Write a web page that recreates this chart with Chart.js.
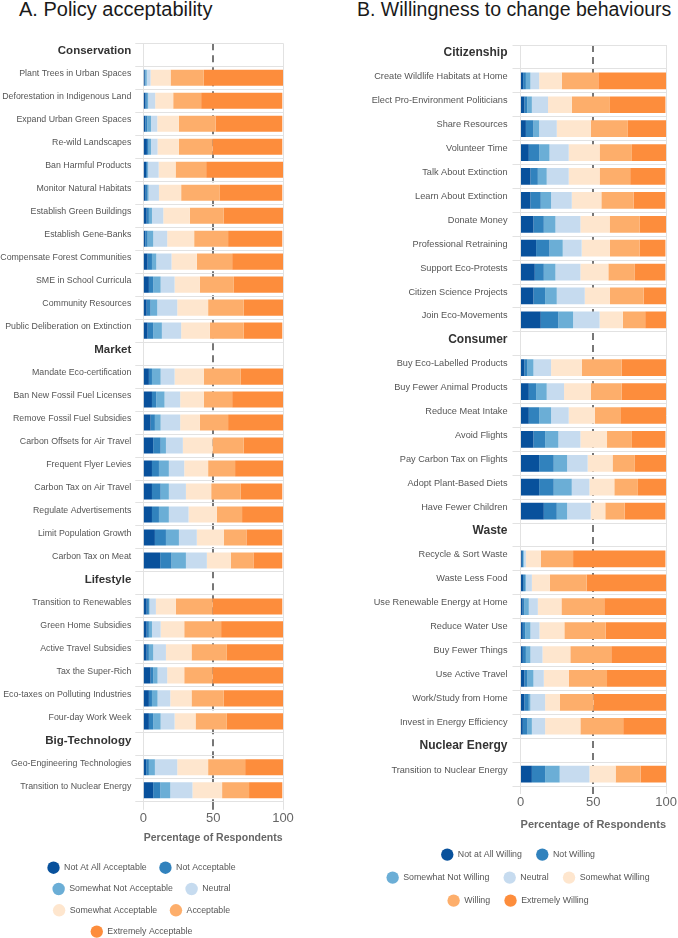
<!DOCTYPE html>
<html>
<head>
<meta charset="utf-8">
<script src="https://cdn.jsdelivr.net/npm/chart.js@4.4.1/dist/chart.umd.min.js"></script>
<style>
  body {
    margin: 0;
    width: 678px;
    height: 938px;
    overflow: hidden;
    background: #fff;
    position: relative;
    font-family: "Liberation Sans", Arial, sans-serif;
  }
  .panel-title {
    position: absolute;
    top: -3px;
    line-height: 24px;
    color: #1a1a1a;
    white-space: nowrap;
  }
  canvas { position: absolute; }
</style>
</head>
<body>
<div class="panel-title" style="left:19px;font-size:20px">A. Policy acceptability</div>
<div class="panel-title" style="left:357px;font-size:19.5px">B. Willingness to change behaviours</div>
<canvas id="policy-chart" width="300" height="916" style="left:0;top:30px"></canvas>
<canvas id="behaviour-chart" width="309" height="885" style="left:369px;top:30px"></canvas>
<script>
const COLORS = ["#08519c", "#3182bd", "#6baed6", "#c6dbef", "#fee6ce", "#fdae6b", "#fd8d3c"];

// Panel A: policy acceptability (group headers have no bar)
const POLICY_HEADERS = ["Conservation", "Market", "Lifestyle", "Big-Technology"];
const POLICY_LABELS = [
  "Conservation",
  "Plant Trees in Urban Spaces", "Deforestation in Indigenous Land", "Expand Urban Green Spaces",
  "Re-wild Landscapes", "Ban Harmful Products", "Monitor Natural Habitats",
  "Establish Green Buildings", "Establish Gene-Banks", "Compensate Forest Communities",
  "SME in School Curricula", "Community Resources", "Public Deliberation on Extinction",
  "Market",
  "Mandate Eco-certification", "Ban New Fossil Fuel Licenses", "Remove Fossil Fuel Subsidies",
  "Carbon Offsets for Air Travel", "Frequent Flyer Levies", "Carbon Tax on Air Travel",
  "Regulate Advertisements", "Limit Population Growth", "Carbon Tax on Meat",
  "Lifestyle",
  "Transition to Renewables", "Green Home Subsidies", "Active Travel Subsidies",
  "Tax the Super-Rich", "Eco-taxes on Polluting Industries", "Four-day Work Week",
  "Big-Technology",
  "Geo-Engineering Technologies", "Transition to Nuclear Energy",
];
const POLICY_NAMES = ["Not At All Acceptable", "Not Acceptable", "Somewhat Not Acceptable", "Neutral",
  "Somewhat Acceptable", "Acceptable", "Extremely Acceptable"];

const policyNotAtAll = [null, 1, 1.5, 1.5, 2.6, 2.0, 1.7, 2.4, 1.4, 3.1, 4.0, 2.4, 3.1,
  null, 4.0, 6.2, 5.2, 7.1, 6.2, 6.2, 6.2, 8.3, 12.1,
  null, 2.4, 2.4, 2.4, 5.2, 4.0, 4.0,
  null, 2.1, 7.1];
const policyNot = [null, 0.5, 1.0, 1.4, 1.2, 1.0, 1.4, 1.6, 1.7, 3.1, 3.1, 2.8, 4.0,
  null, 2.2, 3.1, 3.1, 5.3, 5.0, 6.2, 5.0, 7.9, 8.1,
  null, 1.6, 1.6, 1.6, 1.9, 2.2, 3.1,
  null, 1.9, 5.0];
const policySomewhatNot = [null, 1.0, 1.0, 2.6, 1.7, 0.5, 0.7, 2.2, 4.0, 3.1, 5.3, 4.8, 6.2,
  null, 6.2, 5.9, 4.1, 3.8, 7.1, 5.9, 7.1, 9.3, 10.3,
  null, 0.5, 2.2, 3.1, 3.1, 4.0, 5.3,
  null, 4.3, 7.2];
const policyNeutral = [null, 2.7, 5.0, 4.5, 4.7, 7.5, 7.4, 8.1, 10.0, 10.9, 10.0, 14.3, 13.8,
  null, 10.0, 11.2, 14.0, 12.1, 11.0, 12.2, 14.1, 12.8, 15.0,
  null, 4.5, 6.2, 9.1, 6.9, 9.1, 10.0,
  null, 16.0, 15.9];
const policySomewhat = [null, 14.3, 12.9, 15.5, 15.3, 12.1, 15.9, 19.0, 19.3, 18.1, 18.1, 22.1, 20.5,
  null, 20.9, 16.9, 14.1, 21.2, 17.1, 18.1, 20.2, 19.3, 17.1,
  null, 14.3, 16.9, 18.3, 12.2, 15.2, 15.0,
  null, 22.1, 21.2];
const policyAcceptable = [null, 23.8, 20.0, 26.2, 24.0, 21.9, 27.7, 24.3, 24.3, 25.3, 24.3, 25.5, 24.3,
  null, 26.5, 20.3, 20.2, 22.4, 19.3, 21.2, 18.1, 16.2, 16.2,
  null, 26.2, 26.4, 25.3, 20.2, 23.1, 22.4,
  null, 26.5, 19.3];
const policyExtremely = [null, 56.7, 58.1, 47.8, 50.0, 55.0, 44.7, 42.4, 38.8, 36.4, 35.2, 28.1, 27.6,
  null, 30.2, 36.4, 39.3, 28.1, 34.3, 29.7, 29.3, 25.7, 20.7,
  null, 50.0, 44.3, 40.2, 50.5, 42.4, 40.2,
  null, 27.1, 23.8];

// Panel B: willingness to change behaviours
const BEHAVIOUR_HEADERS = ["Citizenship", "Consumer", "Waste", "Nuclear Energy"];
const BEHAVIOUR_LABELS = [
  "Citizenship",
  "Create Wildlife Habitats at Home", "Elect Pro-Environment Politicians", "Share Resources",
  "Volunteer Time", "Talk About Extinction", "Learn About Extinction", "Donate Money",
  "Professional Retraining", "Support Eco-Protests", "Citizen Science Projects", "Join Eco-Movements",
  "Consumer",
  "Buy Eco-Labelled Products", "Buy Fewer Animal Products", "Reduce Meat Intake", "Avoid Flights",
  "Pay Carbon Tax on Flights", "Adopt Plant-Based Diets", "Have Fewer Children",
  "Waste",
  "Recycle & Sort Waste", "Waste Less Food", "Use Renewable Energy at Home", "Reduce Water Use",
  "Buy Fewer Things", "Use Active Travel", "Work/Study from Home", "Invest in Energy Efficiency",
  "Nuclear Energy",
  "Transition to Nuclear Energy",
];
const BEHAVIOUR_NAMES = ["Not at All Willing", "Not Willing", "Somewhat Not Willing", "Neutral",
  "Somewhat Willing", "Willing", "Extremely Willing"];

const willNotAtAll = [null, 1.8, 2.7, 3.7, 5.7, 6.8, 6.8, 8.9, 10.7, 9.8, 8.9, 13.9,
  null, 2.7, 5.7, 5.7, 8.9, 12.8, 12.8, 16.0,
  null, 0.9, 1.8, 1.5, 1.6, 1.6, 2.7, 2.7, 1.6,
  null, 7.8];
const willNot = [null, 1.9, 1.9, 5.2, 7.1, 5.1, 7.1, 7.1, 9.2, 6.2, 8.0, 12.1,
  null, 2.1, 5.0, 7.1, 8.0, 10.0, 10.0, 8.9,
  null, 0.9, 1.2, 1.2, 1.6, 2.1, 2.1, 3.0, 3.2,
  null, 9.1];
const willSomewhatNot = [null, 3.1, 3.2, 3.9, 7.1, 6.1, 7.1, 8.0, 9.1, 8.0, 8.0, 10.1,
  null, 4.1, 7.3, 8.2, 9.1, 9.2, 12.4, 7.1,
  null, 0.5, 0.7, 3.0, 3.6, 3.1, 4.1, 1.1, 3.0,
  null, 10.0];
const willNeutral = [null, 6.0, 11.1, 12.1, 13.2, 15.1, 14.2, 17.1, 13.0, 17.1, 19.2, 18.2,
  null, 12.1, 11.9, 12.1, 15.1, 14.1, 12.1, 16.2,
  null, 1.4, 4.1, 6.2, 6.2, 8.3, 7.1, 10.1, 9.1,
  null, 20.4];
const willSomewhat = [null, 15.5, 16.3, 23.3, 21.2, 21.2, 20.3, 20.1, 19.4, 19.2, 17.3, 16.0,
  null, 21.2, 18.3, 18.0, 18.3, 17.1, 17.1, 10.0,
  null, 10.2, 12.3, 16.2, 17.1, 19.1, 17.1, 10.0, 24.2,
  null, 18.0];
const willWilling = [null, 25.1, 26.2, 25.5, 22.2, 21.0, 22.1, 20.5, 20.3, 18.2, 23.1, 15.3,
  null, 27.2, 21.2, 17.4, 17.1, 15.3, 16.2, 13.3,
  null, 22.2, 25.3, 29.4, 28.3, 28.1, 26.3, 23.3, 29.4,
  null, 17.1];
const willExtremely = [null, 46.6, 38.1, 26.3, 23.5, 24.2, 21.9, 18.3, 17.8, 21.0, 15.5, 14.4,
  null, 30.6, 30.6, 31.5, 23.0, 21.5, 19.4, 28.0,
  null, 63.4, 54.6, 42.5, 41.6, 37.7, 40.6, 49.8, 29.5,
  null, 17.6];

Chart.defaults.font.family = '"Liberation Sans", Arial, sans-serif';

const GRID_COLOR = "#e2e2e2";
const MID_LINE = "#777";

function buildChart(canvasId, labels, headers, series, names, layout) {
  const isHeader = (i) => headers.includes(labels[i]);
  const isMid = (ctx) => ctx.tick && ctx.tick.value === 50;

  return new Chart(document.getElementById(canvasId), {
    type: "bar",
    data: {
      labels: labels,
      datasets: series.map((values, i) => ({
        label: names[i],
        data: values,
        backgroundColor: COLORS[i],
        borderWidth: 0,
        barPercentage: 0.7,
        categoryPercentage: 1,
      })),
    },
    options: {
      indexAxis: "y",
      responsive: false,
      animation: false,
      layout: { padding: layout.padding },
      scales: {
        x: {
          stacked: true,
          min: 0,
          max: 100,
          ticks: { stepSize: 50, color: "#666", font: { size: 13 }, padding: 1, maxRotation: 0 },
          grid: {
            color: (ctx) => (isMid(ctx) ? MID_LINE : GRID_COLOR),
            lineWidth: (ctx) => (isMid(ctx) ? 2 : 1),
            tickLength: 8,
          },
          border: {
            color: GRID_COLOR,
            dash: (ctx) => (isMid(ctx) ? [7, 5] : []),
          },
          title: {
            display: true,
            text: "Percentage of Respondents",
            color: "#666",
            font: { size: layout.titleSize, weight: "bold" },
            padding: { top: 0, bottom: layout.titlePad },
          },
          afterFit: (scale) => {
            scale.height = layout.xHeight;
          },
        },
        y: {
          stacked: true,
          ticks: {
            autoSkip: false,
            padding: layout.labelPad,
            labelOffset: -4, // labels sit a little above the bar centres in the reference
            color: (ctx) => (isHeader(ctx.index) ? "#333" : "#555"),
            font: (ctx) =>
              isHeader(ctx.index) ? { size: layout.headerSize, weight: "bold" } : { size: layout.labelSize },
          },
          grid: { color: GRID_COLOR, tickLength: 8 },
          border: { color: GRID_COLOR },
          afterFit: (scale) => {
            scale.width = layout.yWidth; // fixed label column so the plot sits where the reference has it
          },
        },
      },
      plugins: {
        legend: {
          position: "bottom",
          labels: {
            usePointStyle: true,
            pointStyle: "circle",
            pointStyleWidth: 12.4,
            color: "#555",
            font: { size: 8.8 },
            padding: layout.legendPadding,
          },
        },
        tooltip: { enabled: false },
      },
    },
  });
}

buildChart(
  "policy-chart",
  POLICY_LABELS,
  POLICY_HEADERS,
  [policyNotAtAll, policyNot, policySomewhatNot, policyNeutral, policySomewhat, policyAcceptable, policyExtremely],
  POLICY_NAMES,
  { padding: { top: 13.3, right: 17, bottom: 0, left: 0 }, yWidth: 143.3, xHeight: 49,
    legendPadding: 12.5, titleSize: 10.5, titlePad: 6, labelPad: 4, labelSize: 8.8, headerSize: 11.5 }
);

buildChart(
  "behaviour-chart",
  BEHAVIOUR_LABELS,
  BEHAVIOUR_HEADERS,
  [willNotAtAll, willNot, willSomewhatNot, willNeutral, willSomewhat, willWilling, willExtremely],
  BEHAVIOUR_NAMES,
  { padding: { top: 15, right: 11, bottom: 0, left: 0 }, yWidth: 151.5, xHeight: 50,
    legendPadding: 14.2, titleSize: 11, titlePad: 4, labelPad: 5, labelSize: 9.2, headerSize: 12 }
);
</script>
</body>
</html>
